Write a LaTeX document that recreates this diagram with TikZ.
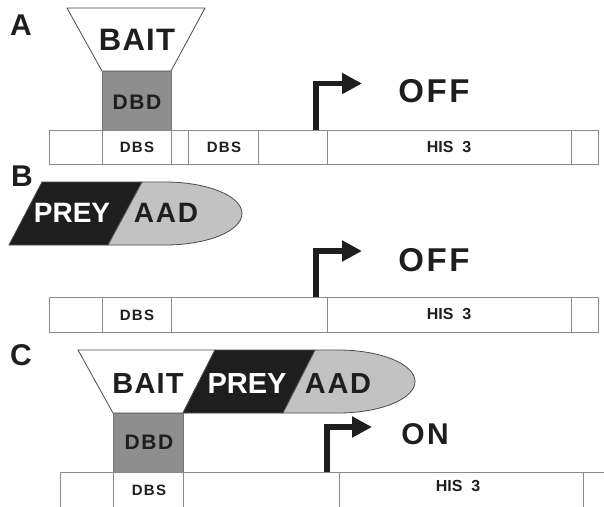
\documentclass[tikz,border=0pt]{standalone}
\usepackage{fontspec}
\setmainfont{Liberation Sans}
\usetikzlibrary{arrows.meta}
\definecolor{dbdgray}{HTML}{8E8E8E}
\definecolor{aadgray}{HTML}{C2C2C2}
\definecolor{ink}{HTML}{1E1E1E}
\definecolor{barline}{HTML}{8A8A8A}
\begin{document}
\begin{tikzpicture}[x=1pt,y=-1pt,
  bar/.style={draw=barline,line width=0.9pt},
  outline/.style={draw=ink!80,line width=0.8pt},
  dbdbox/.style={fill=dbdgray,draw=dbdgray!80!black,line width=0.4pt},
  txt/.style={inner sep=0pt,text=ink,font=\bfseries\fontsize{#1}{#1}\selectfont},
  sptxt/.style={inner sep=0pt,text=ink,font=\bfseries\fontsize{#1}{#1}\selectfont\addfontfeatures{LetterSpace=8}},
  bigtxt/.style={inner sep=0pt,text=ink,font=\bfseries\fontsize{#1}{#1}\selectfont\addfontfeatures{LetterSpace=4}},
  panel/.style={txt=30},
  prom/.style={draw=ink,line width=5.5pt,line join=miter,
    -{Triangle[length=20pt,width=20pt]}}]
\useasboundingbox (0,0) rectangle (604,506);
\clip (0,0) rectangle (604,506);

% ---------------- Panel A ----------------
\node[panel] (labA) at (21,25) {A};
\draw[outline,fill=white] (67,8) -- (205,8) -- (171,71) -- (102,71) -- cycle;
\node[bigtxt=31] (baitA) at (137,40) {BAIT};
\draw[dbdbox] (102,71) rectangle (171,130);
\node[sptxt=21] (dbdA) at (137,102) {DBD};
\draw[bar] (49,130) rectangle (598,164);
\foreach \xx in {102,171,188,258,327,571} \draw[bar] (\xx,130) -- (\xx,164);
\node[sptxt=15] (dbsA1) at (137,147) {DBS};
\node[sptxt=15] (dbsA2) at (224,147) {DBS};
\node[txt=16] (hisA) at (449,147) {HIS\ \ 3};
\coordinate (pA) at (316,130);
\coordinate (tA) at (362,83.5);
\draw[prom] (pA) |- (tA);
\node[sptxt=33] (offA) at (434,91) {OFF};

% ---------------- Panel B ----------------
\node[panel] (labB) at (22,176) {B};
\draw[outline,fill=ink] (42,182) -- (142,182) -- (108,245) -- (9,245) -- cycle;
\draw[outline,fill=aadgray] (142,182) -- (165,182)
  .. controls (207.5,182) and (242,196.1) .. (242,213.5)
  .. controls (242,230.9) and (207.5,245) .. (165,245) -- (108,245) -- cycle;
\node[txt=28,text=white] (preyB) at (72,213) {PREY};
\node[bigtxt=28,font=\bfseries\fontsize{28}{28}\selectfont\addfontfeatures{LetterSpace=6}] (aadB) at (166,213) {AAD};
\draw[bar] (49,297) rectangle (598,332);
\foreach \xx in {102,171,327,571} \draw[bar] (\xx,297) -- (\xx,332);
\node[sptxt=15] (dbsB) at (137,315) {DBS};
\node[txt=16] (hisB) at (449,314) {HIS\ \ 3};
\coordinate (pB) at (316,297);
\coordinate (tB) at (362,251);
\draw[prom] (pB) |- (tB);
\node[sptxt=33] (offB) at (434,260) {OFF};

% ---------------- Panel C ----------------
\node[panel] (labC) at (21,355) {C};
\draw[outline,fill=white] (78,350) -- (215,350) -- (183,413) -- (113,413) -- cycle;
\draw[outline,fill=ink] (215,350) -- (315,350) -- (283,413) -- (183,413) -- cycle;
\draw[outline,fill=aadgray] (315,350) -- (338,350)
  .. controls (380.5,350) and (415,364.1) .. (415,381.5)
  .. controls (415,398.9) and (380.5,413) .. (338,413) -- (283,413) -- cycle;
\node[bigtxt=29] (baitC) at (148,384) {BAIT};
\node[txt=29,text=white] (preyC) at (247,384) {PREY};
\node[bigtxt=29,font=\bfseries\fontsize{29}{29}\selectfont\addfontfeatures{LetterSpace=6}] (aadC) at (338,384) {AAD};
\draw[dbdbox] (113,413) rectangle (183,472);
\node[sptxt=21] (dbdC) at (149,442) {DBD};
\draw[bar] (60,520) -- (60,472) -- (620,472);
\foreach \xx in {113,183,339,583} \draw[bar] (\xx,472) -- (\xx,520);
\node[sptxt=15] (dbsC) at (149,490) {DBS};
\node[txt=16] (hisC) at (458,486) {HIS\ \ 3};
\coordinate (pC) at (327,472);
\coordinate (tC) at (372,427);
\draw[prom] (pC) |- (tC);
\node[sptxt=30] (onC) at (425,434) {ON};
\end{tikzpicture}
\end{document}
